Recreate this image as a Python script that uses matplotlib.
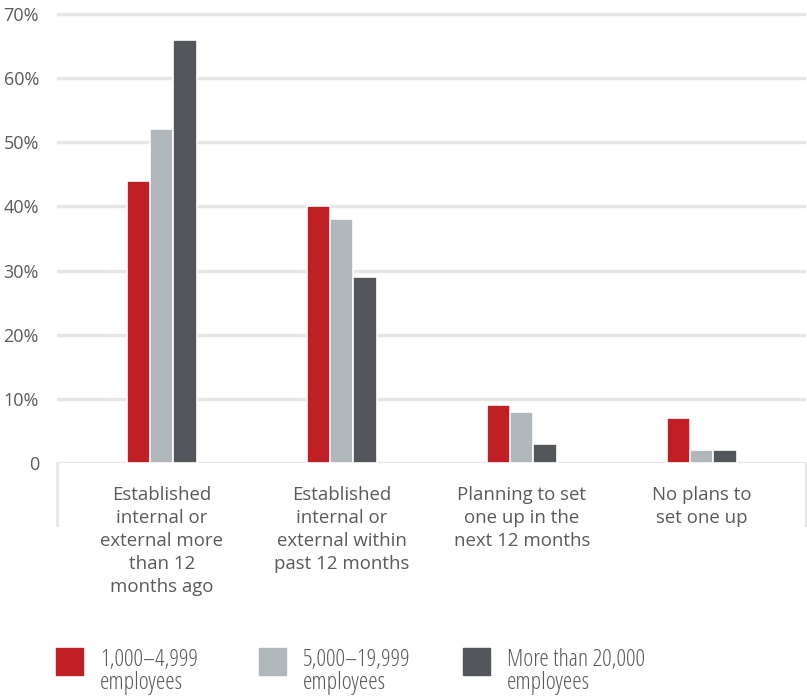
import numpy as np
import matplotlib.pyplot as plt
from matplotlib.patches import Rectangle

plt.rcParams['font.family'] = ['Open Sans', 'DejaVu Sans']

# Data
categories = ['Established\ninternal or\nexternal more\nthan 12\nmonths ago',
              'Established\ninternal or\nexternal within\npast 12 months',
              'Planning to set\none up in the\nnext 12 months',
              'No plans to\nset one up']
series_names = ['1,000–4,999\nemployees', '5,000–19,999\nemployees',
                'More than 20,000\nemployees']
small = [44, 40, 9, 7]
medium = [52, 38, 8, 2]
large = [66, 29, 3, 2]
yticks = [0, 10, 20, 30, 40, 50, 60, 70]
ytick_labels = ['0', '10%', '20%', '30%', '40%', '50%', '60%', '70%']

colors = ['#c01f26', '#b0b7bb', '#53565a']
grid_c = '#e6e6e6'
txt_c = '#5a5a5a'

fig = plt.figure(figsize=(8.07, 6.96), dpi=100)
ax = fig.add_axes([57/807, 1-463/696, 749/807, (463-10.8)/696])

x = np.arange(len(categories))
w = 0.128
for i, vals in enumerate([small, medium, large]):
    ax.bar(x + (i-1)*w, vals, width=w, color=colors[i],
           edgecolor='white', linewidth=1.2, zorder=3)

for t in yticks:
    ax.axhline(t, color=grid_c, linewidth=2.5, zorder=1)

ax.set_xlim(-0.583, 3.578)
ax.set_ylim(0, 70.5)
ax.set_yticks(yticks)
ax.set_yticklabels(ytick_labels, fontsize=13, color=txt_c)
ax.tick_params(axis='y', length=0, pad=13)
ax.set_xticks([])
for s in ax.spines.values():
    s.set_visible(False)

# vertical separators below the axis
for xe in [0, 1]:
    ax.plot([xe, xe], [0, -0.137], transform=ax.transAxes, color=grid_c,
            linewidth=2, clip_on=False)

for xi, lab in zip(x, categories):
    ax.text(xi, -0.05, lab, transform=ax.get_xaxis_transform(),
            ha='center', va='top', fontsize=13.4, color=txt_c,
            linespacing=1.36)

# legend
leg_x = [56, 259, 463]
for lx, name, c in zip(leg_x, series_names, colors):
    fig.patches.append(Rectangle((lx/807, 1-675/696), 27/807, 27/696,
                                 transform=fig.transFigure, color=c))
    fig.text((lx+44)/807, 1-648/696, name, ha='left', va='top',
             fontsize=17.2, color=txt_c, linespacing=0.94,
             fontstretch='condensed')

fig.savefig('out.png', dpi=100)
